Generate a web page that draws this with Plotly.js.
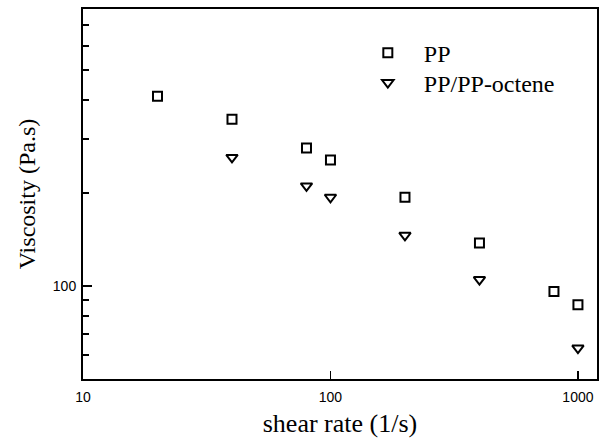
<!DOCTYPE html>
<html>
<head>
<meta charset="utf-8">
<script src="https://cdn.plot.ly/plotly-3.0.1.min.js"></script>
<style>html,body{margin:0;padding:0;background:#fff;}#chart{width:603px;height:444px;}</style>
</head>
<body>
<div id="chart"></div>
<script>
const shearPP = [20, 40, 80, 100, 200, 400, 800, 1000];
const viscPP = [412, 347, 280, 256, 194, 138, 96, 87];
const shearBlend = [40, 80, 100, 200, 400, 1000];
const viscBlend = [261, 211, 194, 146, 105, 63];
const xTickVals = [10, 100, 1000];
const xTickText = ['10', '100', '1000'];
const yMajorVals = [100];
const yMajorText = ['100'];
const yMinorVals = [60, 70, 80, 90, 200, 300, 400, 500, 600, 700];

const serif = 'Liberation Serif, Times New Roman, serif';
const sans = 'Liberation Sans, Arial, sans-serif';

const traces = [
  {x: shearPP, y: viscPP, name: 'PP', mode: 'markers', type: 'scatter', legend: 'legend',
   marker: {symbol: 'square-open', size: 9, color: '#000', line: {width: 2, color: '#000'}}},
  {x: shearBlend, y: viscBlend, name: 'PP/PP-octene', mode: 'markers', type: 'scatter', legend: 'legend2',
   marker: {symbol: 'triangle-down-open', size: 10, color: '#000', line: {width: 2, color: '#000'}}}
];

const legendBase = {x: 0.523, xanchor: 'left', yanchor: 'middle', bgcolor: 'rgba(0,0,0,0)',
  font: {family: serif, size: 24, color: '#000'}, itemwidth: 62};

const layout = {
  width: 603, height: 444,
  margin: {l: 83, r: 6, t: 9, b: 65},
  paper_bgcolor: '#fff', plot_bgcolor: '#fff',
  showlegend: true,
  legend: Object.assign({}, legendBase, {y: 0.881}),
  legend2: Object.assign({}, legendBase, {y: 0.80}),
  xaxis: {
    type: 'log', range: [Math.log10(10), Math.log10(1194)],
    tickmode: 'array', tickvals: xTickVals, ticktext: xTickText,
    ticks: 'inside', ticklen: 8, tickwidth: 1.5, tickcolor: '#000',
    showline: true, linewidth: 2, linecolor: '#000', mirror: true,
    showgrid: false, zeroline: false,
    tickfont: {family: sans, size: 14, color: '#000'},
    ticklabelstandoff: 4,
    title: {text: 'shear rate (1/s)', standoff: 10,
      font: {family: serif, size: 26, color: '#000'}}
  },
  yaxis: {
    type: 'log', range: [Math.log10(50), Math.log10(790)],
    tickmode: 'array', tickvals: yMajorVals, ticktext: yMajorText,
    ticks: 'inside', ticklen: 9, tickwidth: 2, tickcolor: '#000',
    minor: {tickmode: 'array', tickvals: yMinorVals, ticks: 'inside', ticklen: 6, tickwidth: 2, tickcolor: '#000', showgrid: false},
    showline: true, linewidth: 2, linecolor: '#000', mirror: true,
    showgrid: false, zeroline: false,
    tickfont: {family: sans, size: 14, color: '#000'},
    ticklabelstandoff: 2,
    title: {text: 'Viscosity (Pa.s)', standoff: 10,
      font: {family: serif, size: 24, color: '#000'}}
  }
};

Plotly.newPlot('chart', traces, layout, {displayModeBar: false, staticPlot: true});
</script>
</body>
</html>
